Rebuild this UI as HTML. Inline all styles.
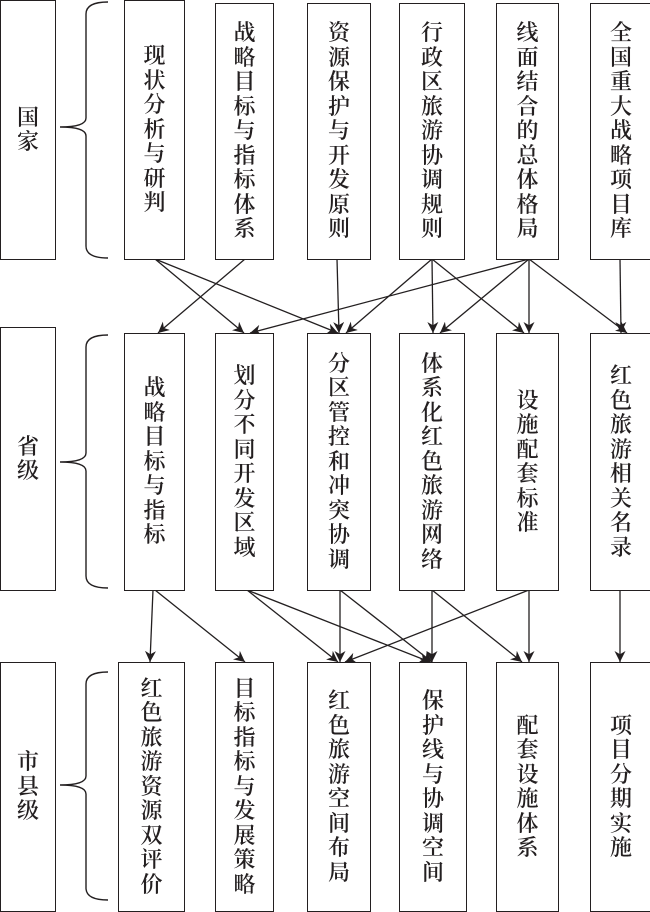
<!DOCTYPE html>
<html><head><meta charset="utf-8"><style>
html,body{margin:0;padding:0;background:#fff;}
body{width:650px;height:906px;position:relative;overflow:hidden;font-family:"Liberation Serif","Noto Serif CJK SC",serif;}
.b{position:absolute;border:1.6px solid #231f20;box-sizing:border-box;display:flex;align-items:center;justify-content:center;background:#fff;}
.t{width:23px;font-size:22px;line-height:24.5px;color:#231f20;word-break:break-all;text-align:center;font-weight:600;}
svg{position:absolute;left:0;top:0;}
</style></head><body>
<svg width="650" height="906" viewBox="0 0 650 906">
<defs><marker id="a" viewBox="0 0 10 10" refX="10" refY="5" markerWidth="11" markerHeight="11" orient="auto" markerUnits="userSpaceOnUse"><path d="M0,0 L10,5 L0,10 L3,5 z" fill="#231f20"/></marker></defs>
<g fill="none" stroke="#231f20" stroke-width="1.4">
<path d="M108,2 Q86,2 86,14 L86,118 Q86,127 60,127 Q86,127 86,136 L86,246 Q86,258 108,258"/>
<path d="M108,335 Q86,335 86,347 L86,453 Q86,462 60,462 Q86,462 86,471 L86,576 Q86,588 108,588"/>
<path d="M108,672 Q86,672 86,684 L86,776 Q86,785 60,785 Q86,785 86,794 L86,888 Q86,900 108,900"/>
</g>
<g stroke="#231f20" stroke-width="1.3" marker-end="url(#a)">
<line x1="155" y1="259" x2="244" y2="333"/>
<line x1="155" y1="259" x2="338" y2="333"/>
<line x1="245" y1="259" x2="158" y2="333"/>
<line x1="337" y1="259" x2="339" y2="333"/>
<line x1="432" y1="259" x2="346" y2="333"/>
<line x1="432" y1="259" x2="433" y2="333"/>
<line x1="432" y1="259" x2="524" y2="333"/>
<line x1="529" y1="259" x2="250" y2="333"/>
<line x1="529" y1="259" x2="440" y2="333"/>
<line x1="529" y1="259" x2="529" y2="333"/>
<line x1="529" y1="259" x2="627" y2="333"/>
<line x1="620" y1="259" x2="621" y2="333"/>
<line x1="153" y1="590" x2="150" y2="662"/>
<line x1="155" y1="590" x2="245" y2="662"/>
<line x1="247" y1="590" x2="338" y2="662"/>
<line x1="247" y1="590" x2="430" y2="662"/>
<line x1="340" y1="590" x2="340" y2="662"/>
<line x1="340" y1="590" x2="432" y2="662"/>
<line x1="432" y1="590" x2="432" y2="662"/>
<line x1="432" y1="590" x2="522" y2="662"/>
<line x1="529" y1="590" x2="345" y2="662"/>
<line x1="529" y1="590" x2="529" y2="662"/>
<line x1="620" y1="590" x2="620" y2="662"/>
</g>
</svg>

<div class="b" style="left:0;top:0;width:56px;height:260px"><div class="t">国家</div></div>
<div class="b" style="left:124px;top:0;width:61px;height:260px"><div class="t">现状分析与研判</div></div>
<div class="b" style="left:215px;top:3px;width:59px;height:257px"><div class="t">战略目标与指标体系</div></div>
<div class="b" style="left:307px;top:3px;width:64px;height:257px"><div class="t">资源保护与开发原则</div></div>
<div class="b" style="left:399px;top:3px;width:66px;height:257px"><div class="t">行政区旅游协调规则</div></div>
<div class="b" style="left:496px;top:3px;width:63px;height:257px"><div class="t">线面结合的总体格局</div></div>
<div class="b" style="left:590px;top:3px;width:62px;height:257px"><div class="t">全国重大战略项目库</div></div>

<div class="b" style="left:0;top:327px;width:56px;height:264px"><div class="t">省级</div></div>
<div class="b" style="left:124px;top:333px;width:61px;height:258px"><div class="t">战略目标与指标</div></div>
<div class="b" style="left:215px;top:333px;width:59px;height:258px"><div class="t">划分不同开发区域</div></div>
<div class="b" style="left:307px;top:333px;width:64px;height:258px"><div class="t">分区管控和冲突协调</div></div>
<div class="b" style="left:399px;top:333px;width:66px;height:258px"><div class="t">体系化红色旅游网络</div></div>
<div class="b" style="left:496px;top:333px;width:63px;height:258px"><div class="t">设施配套标准</div></div>
<div class="b" style="left:590px;top:333px;width:62px;height:258px"><div class="t">红色旅游相关名录</div></div>

<div class="b" style="left:0;top:662px;width:56px;height:250px"><div class="t">市县级</div></div>
<div class="b" style="left:118px;top:662px;width:67px;height:250px"><div class="t">红色旅游资源双评价</div></div>
<div class="b" style="left:215px;top:662px;width:59px;height:250px"><div class="t">目标指标与发展策略</div></div>
<div class="b" style="left:307px;top:662px;width:64px;height:250px"><div class="t">红色旅游空间布局</div></div>
<div class="b" style="left:399px;top:662px;width:68px;height:250px"><div class="t">保护线与协调空间</div></div>
<div class="b" style="left:496px;top:662px;width:63px;height:250px"><div class="t">配套设施体系</div></div>
<div class="b" style="left:590px;top:662px;width:62px;height:250px"><div class="t">项目分期实施</div></div>
</body></html>
